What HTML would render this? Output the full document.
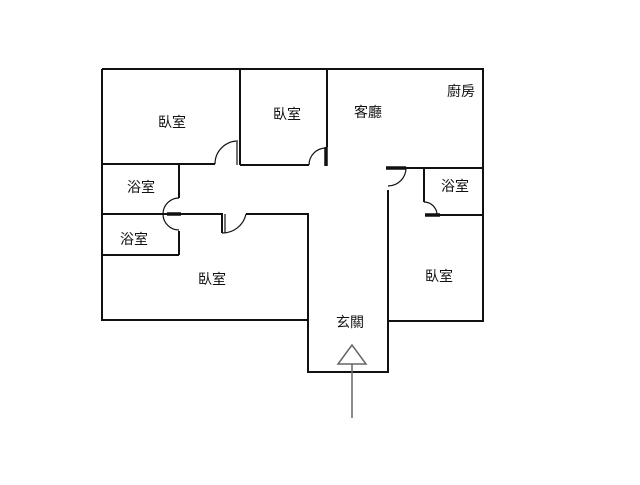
<!DOCTYPE html>
<html><head><meta charset="utf-8"><style>
html,body{margin:0;padding:0;background:#fff;}
svg text{font-family:"Liberation Sans","Noto Sans CJK TC",sans-serif;font-size:14px;fill:#111;text-anchor:middle;dominant-baseline:central;}
</style></head><body>
<svg width="640" height="480" viewBox="0 0 640 480" xmlns="http://www.w3.org/2000/svg">
<g fill="none" stroke="#111" stroke-width="2">
<!-- outer -->
<polyline points="102,69 483,69 483,321 388,321"/>
<polyline points="102,69 102,320 308,320"/>
<!-- bedroom walls -->
<line x1="240" y1="69" x2="240" y2="165"/>
<line x1="327" y1="69" x2="327" y2="147"/>
<polyline points="102,164 215,164"/>
<polyline points="240,165 309,165"/>
<!-- baths left -->
<line x1="179" y1="164" x2="179" y2="198"/>
<polyline points="102,214 222,214 222,233"/>
<line x1="179" y1="231" x2="179" y2="255"/>
<line x1="102" y1="255" x2="179" y2="255"/>
<polyline points="246,214 308,214 308,372 388,372 388,190"/>
<!-- right -->
<line x1="406" y1="168" x2="483" y2="168"/>
<line x1="424" y1="168" x2="424" y2="202"/>
<line x1="426" y1="215" x2="483" y2="215"/>
</g>
<g fill="none" stroke="#111" stroke-width="1.2">
<path d="M215,164 A23,23 0 0 1 238,141"/>
<path d="M309,165 A17,17 0 0 1 326,148"/>
<path d="M179,198 A16,16 0 0 0 179,230"/>
<path d="M222,233 A24,24 0 0 0 246,214"/>
<path d="M406,168 A18,18 0 0 1 388,186"/>
<path d="M424,202 A13,13 0 0 1 437,215"/>
<line x1="237" y1="142" x2="237" y2="165"/>
<line x1="225" y1="214" x2="225" y2="233"/>
</g>
<g stroke="#111" stroke-width="3.5">
<line x1="326" y1="147" x2="326" y2="166"/>
<line x1="167" y1="214" x2="181" y2="214"/>
<line x1="386" y1="168" x2="406" y2="168"/>
<line x1="425" y1="215" x2="440" y2="215"/>
</g>
<g stroke="#666" stroke-width="1.5" fill="none">
<polygon points="352,345 338,364 366,364"/>
<line x1="352" y1="364" x2="352" y2="418"/>
</g>
<text x="172" y="122">臥室</text>
<text x="287" y="114">臥室</text>
<text x="368" y="112">客廳</text>
<text x="461" y="91">廚房</text>
<text x="141" y="187">浴室</text>
<text x="455" y="186">浴室</text>
<text x="134" y="239">浴室</text>
<text x="212" y="279">臥室</text>
<text x="439" y="276">臥室</text>
<text x="350" y="322">玄關</text>
</svg>
</body></html>
